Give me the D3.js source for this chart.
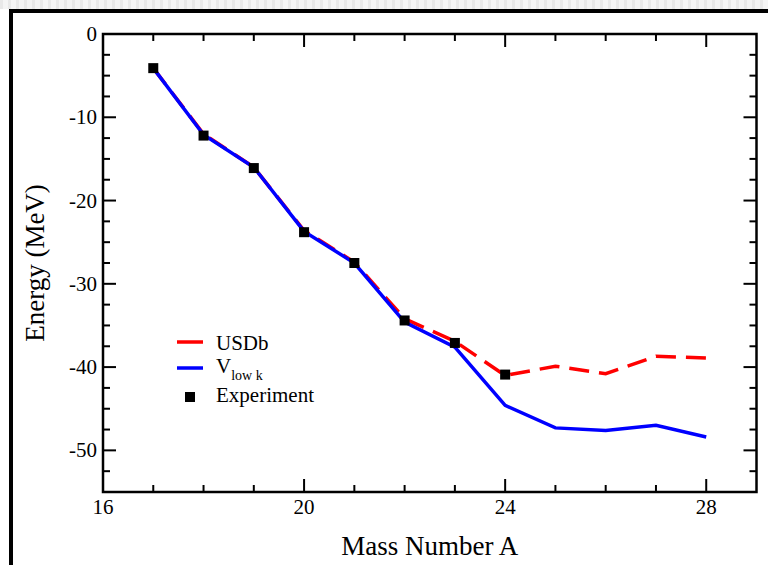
<!DOCTYPE html>
<html>
<head>
<meta charset="utf-8">
<script src="https://cdn.jsdelivr.net/npm/d3@7"></script>
<style>
  html, body { margin: 0; padding: 0; background: #fff; }
  svg { display: block; }
  text { font-family: "Liberation Serif", "Times New Roman", serif; fill: #000; }
</style>
</head>
<body>
<svg id="chart" width="768" height="565"></svg>
<script>
// mass numbers
var massA = [17, 18, 19, 20, 21, 22, 23, 24, 25, 26, 27, 28];
var usdb = [-4.1, -12.0, -16.0, -23.6, -27.4, -34.2, -36.9, -41.0, -39.9, -40.8, -38.7, -38.9];
var vlowk = [-4.1, -12.1, -16.0, -23.7, -27.5, -34.6, -37.6, -44.6, -47.3, -47.6, -47.0, -48.4];
var expA = [17, 18, 19, 20, 21, 22, 23, 24];
var expE = [-4.1, -12.2, -16.1, -23.8, -27.5, -34.4, -37.1, -40.9];

var xMajor = [16, 20, 24, 28];
var yMajor = [0, -10, -20, -30, -40, -50];

var svg = d3.select("#chart");
// note: "top" is reserved on window, so use pL/pT/pR/pB
var pL = 103, pT = 34, pR = 756.5, pB = 492;

// striped strip above the frame
var pat = svg.append("defs").append("pattern")
    .attr("id", "stripes").attr("width", 8).attr("height", 8)
    .attr("patternUnits", "userSpaceOnUse");
pat.append("rect").attr("width", 8).attr("height", 8).attr("fill", "#f4f4f4");
pat.append("rect").attr("width", 3).attr("height", 8).attr("fill", "#e8e8e8");
svg.append("rect").attr("x", 0).attr("y", 0).attr("width", 768).attr("height", 9)
    .attr("fill", "url(#stripes)");

// outer frame
svg.append("path")
    .attr("d", "M11,565 L11,11 L768,11")
    .attr("fill", "none").attr("stroke", "#000").attr("stroke-width", 4);

var x = d3.scaleLinear().domain([16, 29]).range([pL, pR]);
var y = d3.scaleLinear().domain([-55, 0]).range([pB, pT]);

var g = svg.append("g");

// ticks (inward, on all four sides)
var xMinor = d3.range(17, 29, 1);
var yMinor = d3.range(-52.5, 0, 2.5);
function tickLen(isMajor) { return isMajor ? 13 : 7; }

xMinor.forEach(function (v) {
  var L = tickLen(xMajor.indexOf(v) >= 0);
  g.append("line").attr("x1", x(v)).attr("x2", x(v)).attr("y1", pB).attr("y2", pB - L)
      .attr("stroke", "#000").attr("stroke-width", 2);
  g.append("line").attr("x1", x(v)).attr("x2", x(v)).attr("y1", pT).attr("y2", pT + L)
      .attr("stroke", "#000").attr("stroke-width", 2);
});
yMinor.forEach(function (v) {
  var L = tickLen(yMajor.indexOf(v) >= 0);
  g.append("line").attr("x1", pL).attr("x2", pL + L).attr("y1", y(v)).attr("y2", y(v))
      .attr("stroke", "#000").attr("stroke-width", 2);
  g.append("line").attr("x1", pR).attr("x2", pR - L).attr("y1", y(v)).attr("y2", y(v))
      .attr("stroke", "#000").attr("stroke-width", 2);
});

// plot box
g.append("rect").attr("x", pL).attr("y", pT)
    .attr("width", pR - pL).attr("height", pB - pT)
    .attr("fill", "none").attr("stroke", "#000").attr("stroke-width", 2.5);

// tick labels
g.selectAll(".xl").data(xMajor).enter().append("text")
    .attr("x", function (d) { return x(d); }).attr("y", pB + 22)
    .attr("text-anchor", "middle").attr("font-size", 21).text(function (d) { return d; });
g.selectAll(".yl").data(yMajor).enter().append("text")
    .attr("x", pL - 6).attr("y", function (d) { return y(d) + 7; })
    .attr("text-anchor", "end").attr("font-size", 21).text(function (d) { return d; });

// axis titles
svg.append("text").attr("x", (pL + pR) / 2).attr("y", 555)
    .attr("text-anchor", "middle").attr("font-size", 27).text("Mass Number A");
svg.append("text").attr("transform", "translate(44," + ((pT + pB) / 2) + ") rotate(-90)")
    .attr("text-anchor", "middle").attr("font-size", 27).text("Energy (MeV)");

// series
var line = d3.line().x(function (d) { return x(d[0]); }).y(function (d) { return y(d[1]); });
g.append("path").datum(d3.zip(massA, usdb)).attr("d", line)
    .attr("fill", "none").attr("stroke", "#ff0000").attr("stroke-width", 3.5)
    .attr("stroke-dasharray", "20,10");
g.append("path").datum(d3.zip(massA, vlowk)).attr("d", line)
    .attr("fill", "none").attr("stroke", "#0000ff").attr("stroke-width", 3.5);
g.selectAll(".pt").data(d3.zip(expA, expE)).enter().append("rect")
    .attr("x", function (d) { return x(d[0]) - 5; })
    .attr("y", function (d) { return y(d[1]) - 5; })
    .attr("width", 10).attr("height", 10).attr("fill", "#000");

// legend
var lg = svg.append("g");
lg.append("line").attr("x1", 177).attr("x2", 203).attr("y1", 342).attr("y2", 342)
    .attr("stroke", "#ff0000").attr("stroke-width", 3.5);
lg.append("line").attr("x1", 177).attr("x2", 203).attr("y1", 368).attr("y2", 368)
    .attr("stroke", "#0000ff").attr("stroke-width", 3.5);
lg.append("rect").attr("x", 185).attr("y", 392).attr("width", 10).attr("height", 10).attr("fill", "#000");
lg.append("text").attr("x", 216).attr("y", 350).attr("font-size", 21).text("USDb");
var vt = lg.append("text").attr("x", 216).attr("y", 373).attr("font-size", 21);
vt.append("tspan").text("V");
vt.append("tspan").attr("font-size", 14).attr("dy", 7).text("low k");
lg.append("text").attr("x", 216).attr("y", 402).attr("font-size", 21).text("Experiment");
</script>
</body>
</html>
